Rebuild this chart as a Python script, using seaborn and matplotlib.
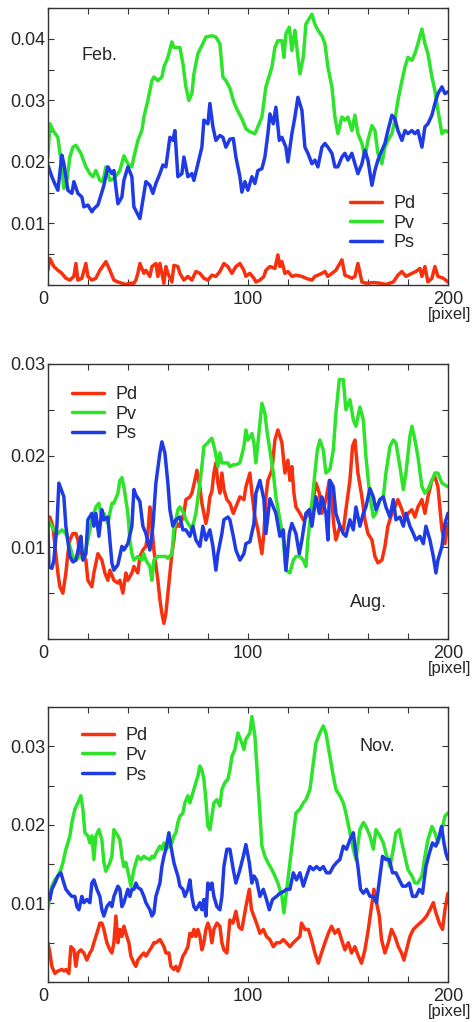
import pandas as pd
import matplotlib
matplotlib.use('Agg')
import matplotlib.pyplot as plt
import matplotlib.transforms as mtransforms
from matplotlib.ticker import MultipleLocator
from matplotlib.lines import Line2D
import seaborn as sns

# ---- February ----
feb_pd_x = [0, 1, 3, 5, 7, 9, 11, 13, 14, 15, 17, 19, 20, 22, 24, 26, 29, 31, 33, 35, 37, 39, 41, 43, 44, 45, 46, 48, 49, 51, 52, 54, 55, 56, 58, 59, 60, 62, 63, 65, 66, 68, 70, 72, 74, 76, 78, 80, 82, 84, 86, 88, 90, 92, 94, 96, 98, 99, 101, 103, 104, 106, 108, 109, 111, 113.5, 115, 116, 117, 118.5, 120, 122, 124, 127, 129, 132, 133.5, 135, 137, 138.5, 140, 142, 144, 147, 148.5, 150, 152, 153.5, 155, 157, 159, 163, 166, 169, 172.7, 175, 177, 179, 182, 184, 186, 187, 188.5, 190, 192, 193.5, 195, 197.7, 200]
feb_pd = [0.0024, 0.0043, 0.0030, 0.0024, 0.0019, 0.0011, 0.0008, 0.0014, 0.0035, 0.0008, 0.0011, 0.0035, 0.0014, 0.0008, 0.0011, 0.0024, 0.0038, 0.0024, 0.0008, 0.0005, 0.0003, 0.0001, 0.0003, 0.0003, 0.0008, 0.0019, 0.0035, 0.0019, 0.0024, 0.0014, 0.0030, 0.0035, 0.0014, 0.0035, 0.0003, 0.0030, 0.0019, 0.0005, 0.0032, 0.0030, 0.0019, 0.0008, 0.0014, 0.0008, 0.0022, 0.0019, 0.0011, 0.0008, 0.0016, 0.0014, 0.0022, 0.0035, 0.0030, 0.0019, 0.0030, 0.0035, 0.0024, 0.0014, 0.0019, 0.0011, 0.0005, 0.0008, 0.0014, 0.0024, 0.0030, 0.0027, 0.0049, 0.0030, 0.0038, 0.0019, 0.0022, 0.0014, 0.0016, 0.0014, 0.0011, 0.0008, 0.0014, 0.0016, 0.0019, 0.0022, 0.0014, 0.0019, 0.0024, 0.0041, 0.0016, 0.0014, 0.0011, 0.0014, 0.0035, 0.0005, 0.0003, 0.0004, 0.0003, 0.0001, 0.0005, 0.0016, 0.0022, 0.0014, 0.0019, 0.0022, 0.0027, 0.0014, 0.0030, 0.0005, 0.0011, 0.0030, 0.0014, 0.0011, 0.0005]

feb_pv_x = [0, 1, 3, 5, 6.5, 8, 9.5, 11, 12.5, 14, 16.5, 19, 21, 22.5, 24, 26, 27.5, 29, 31, 33, 36, 38, 40, 42, 43, 45, 47, 48, 50, 52, 53, 55, 57, 58, 60, 62, 63, 66, 67.5, 69, 70.5, 72, 73, 75, 77, 79, 82, 84, 86, 87.5, 89, 91, 92.7, 94, 97, 99, 101, 103.5, 105, 107, 109, 112, 113.5, 115, 117, 118, 119, 120.7, 122, 123.5, 125, 126, 127.7, 129, 132, 133.5, 135, 137, 138.5, 140, 142, 143.5, 145, 147, 148.5, 150, 152, 153.5, 155, 157, 158.5, 160, 162, 163.5, 165, 167, 168.5, 170, 172, 173.5, 175, 177, 178.5, 180, 182, 183.5, 185, 187, 188.5, 190, 192, 193.5, 195, 197, 198.5, 200]
feb_pv = [0.0208, 0.0262, 0.0249, 0.0240, 0.0203, 0.0157, 0.0170, 0.0208, 0.0224, 0.0227, 0.0214, 0.0192, 0.0181, 0.0176, 0.0186, 0.0170, 0.0168, 0.0192, 0.0170, 0.0173, 0.0186, 0.0210, 0.0197, 0.0192, 0.0208, 0.0235, 0.0251, 0.0273, 0.0300, 0.0332, 0.0338, 0.0332, 0.0338, 0.0354, 0.0370, 0.0395, 0.0386, 0.0386, 0.0360, 0.0322, 0.0300, 0.0311, 0.0343, 0.0376, 0.0389, 0.0403, 0.0405, 0.0403, 0.0392, 0.0338, 0.0332, 0.0320, 0.0300, 0.0289, 0.0270, 0.0254, 0.0249, 0.0246, 0.0257, 0.0273, 0.0322, 0.0354, 0.0386, 0.0397, 0.0397, 0.0370, 0.0408, 0.0419, 0.0381, 0.0414, 0.0370, 0.0343, 0.0370, 0.0424, 0.0440, 0.0424, 0.0414, 0.0405, 0.0392, 0.0354, 0.0322, 0.0273, 0.0246, 0.0273, 0.0268, 0.0273, 0.0251, 0.0276, 0.0246, 0.0230, 0.0208, 0.0235, 0.0259, 0.0251, 0.0214, 0.0197, 0.0224, 0.0235, 0.0246, 0.0268, 0.0300, 0.0332, 0.0354, 0.0370, 0.0365, 0.0376, 0.0392, 0.0416, 0.0392, 0.0376, 0.0338, 0.0316, 0.0284, 0.0246, 0.0251, 0.0249]

feb_ps_x = [0, 2, 3, 5, 7, 8, 10, 12, 13, 15, 17, 18, 20, 22, 23, 25, 27, 28, 30, 32, 33, 35, 37, 38, 40, 42, 43, 46, 47.5, 49, 51, 52.5, 54, 56, 57.5, 59, 61, 62.5, 63.5, 65, 67, 68, 70, 72, 73, 75, 77, 78, 80, 81, 82.5, 84, 86, 87.5, 89, 91, 92.7, 94, 96, 97, 98.5, 100, 102, 103.5, 105, 107, 108.5, 110, 111, 112.7, 114, 115.7, 117, 119, 120, 122, 123.5, 125, 127, 128.5, 130, 132, 133.5, 135, 137, 138.5, 140, 142, 143.5, 145, 147, 148.5, 150, 152, 153.5, 155, 157, 158.5, 160, 162, 163.5, 165, 167, 168.5, 170, 172, 173.5, 175, 177, 178.5, 180, 182, 183.5, 185, 187, 188.5, 190, 192, 193.5, 195, 197, 198.5, 200]
feb_ps = [0.0195, 0.0176, 0.0168, 0.0154, 0.0211, 0.0197, 0.0154, 0.0149, 0.0168, 0.0149, 0.0143, 0.0127, 0.0130, 0.0119, 0.0124, 0.0130, 0.0151, 0.0162, 0.0192, 0.0181, 0.0186, 0.0132, 0.0143, 0.0170, 0.0192, 0.0176, 0.0127, 0.0108, 0.0138, 0.0168, 0.0162, 0.0149, 0.0165, 0.0181, 0.0195, 0.0192, 0.0240, 0.0235, 0.0251, 0.0176, 0.0181, 0.0208, 0.0176, 0.0181, 0.0170, 0.0197, 0.0224, 0.0268, 0.0262, 0.0295, 0.0257, 0.0235, 0.0243, 0.0240, 0.0224, 0.0237, 0.0238, 0.0208, 0.0176, 0.0151, 0.0168, 0.0154, 0.0176, 0.0165, 0.0186, 0.0189, 0.0208, 0.0246, 0.0278, 0.0262, 0.0289, 0.0235, 0.0240, 0.0224, 0.0200, 0.0246, 0.0273, 0.0305, 0.0284, 0.0224, 0.0214, 0.0197, 0.0203, 0.0192, 0.0224, 0.0230, 0.0224, 0.0214, 0.0192, 0.0192, 0.0208, 0.0214, 0.0203, 0.0214, 0.0197, 0.0181, 0.0197, 0.0219, 0.0203, 0.0162, 0.0186, 0.0203, 0.0219, 0.0230, 0.0251, 0.0276, 0.0270, 0.0251, 0.0235, 0.0251, 0.0246, 0.0251, 0.0246, 0.0251, 0.0224, 0.0257, 0.0262, 0.0276, 0.0295, 0.0311, 0.0322, 0.0311, 0.0314]

# ---- August ----
aug_pd_x = [0, 1, 2.5, 4, 5, 6, 7.5, 9, 10, 11, 12.5, 14, 15, 16, 17.5, 19, 20, 22, 23, 25, 27, 28.5, 30, 31, 33, 35, 36, 37.5, 39, 40, 42, 43, 45, 46, 47.5, 49, 50, 51, 52, 53, 55, 56, 57, 58, 59, 60, 61, 62, 63, 64, 65, 66, 68, 69, 71, 72, 73.5, 74.5, 76, 77, 79, 80, 81, 82, 83, 84, 85, 86, 87, 88, 89.5, 91, 92.7, 94, 96, 98, 99, 101, 102, 103.5, 105, 107, 108, 109, 110, 112, 113.5, 115, 117, 118.5, 120, 121, 122, 123, 124, 126, 127.7, 129, 131, 132.7, 134, 135.7, 137, 139, 140.7, 141.8, 143, 144, 146, 147.7, 149, 151, 152.3, 153.5, 155, 157, 158.5, 160, 162, 163.5, 165, 167, 168.5, 170, 172, 173.5, 175, 177, 178.5, 180, 182, 183.5, 185, 187, 188.5, 190, 192, 193.5, 195, 197, 198.5, 200]
aug_pd = [0.0123, 0.0133, 0.0123, 0.0093, 0.0072, 0.0057, 0.0050, 0.0072, 0.0093, 0.0108, 0.0115, 0.0115, 0.0108, 0.0090, 0.0093, 0.0086, 0.0064, 0.0057, 0.0072, 0.0093, 0.0086, 0.0072, 0.0064, 0.0075, 0.0064, 0.0061, 0.0064, 0.0050, 0.0072, 0.0064, 0.0072, 0.0079, 0.0072, 0.0090, 0.0097, 0.0101, 0.0115, 0.0144, 0.0123, 0.0097, 0.0064, 0.0043, 0.0028, 0.0017, 0.0028, 0.0050, 0.0072, 0.0093, 0.0108, 0.0130, 0.0123, 0.0123, 0.0137, 0.0152, 0.0155, 0.0159, 0.0173, 0.0184, 0.0166, 0.0148, 0.0126, 0.0137, 0.0155, 0.0161, 0.0181, 0.0192, 0.0170, 0.0159, 0.0181, 0.0163, 0.0152, 0.0148, 0.0137, 0.0144, 0.0155, 0.0152, 0.0166, 0.0181, 0.0159, 0.0133, 0.0119, 0.0093, 0.0115, 0.0155, 0.0173, 0.0184, 0.0217, 0.0228, 0.0214, 0.0181, 0.0195, 0.0173, 0.0188, 0.0159, 0.0144, 0.0137, 0.0130, 0.0133, 0.0137, 0.0152, 0.0170, 0.0159, 0.0137, 0.0152, 0.0173, 0.0155, 0.0123, 0.0108, 0.0123, 0.0119, 0.0141, 0.0173, 0.0210, 0.0217, 0.0181, 0.0155, 0.0130, 0.0115, 0.0108, 0.0090, 0.0083, 0.0086, 0.0101, 0.0123, 0.0137, 0.0144, 0.0152, 0.0141, 0.0130, 0.0137, 0.0141, 0.0133, 0.0144, 0.0152, 0.0137, 0.0155, 0.0173, 0.0177, 0.0166, 0.0119, 0.0104, 0.0126]

aug_pv_x = [0, 2, 3, 5, 7, 9, 11, 12.5, 14, 16, 18, 20, 22, 24, 25.5, 27, 28, 30, 32, 33, 35, 36, 37, 38, 40, 41, 42, 43, 45, 47, 48, 49, 51, 52, 53, 55, 57, 59, 60, 62, 63, 65, 66, 68, 69, 71, 72, 74, 76, 77, 78, 80, 81, 82, 83.5, 85, 86, 87, 88.5, 90, 91, 92.7, 94, 96, 98, 99, 100, 102, 103, 104, 106, 107, 108.5, 109.7, 111, 112.7, 114, 116, 117.7, 119, 121, 122.7, 124, 126, 127.7, 129, 130, 132, 133.5, 134.7, 136, 137.7, 139, 141, 142.7, 144, 145.7, 147.7, 149, 151, 152.7, 154, 156, 157.7, 159, 161, 162.7, 164, 166, 167.7, 169, 171, 172.7, 174, 176, 177.7, 179, 181, 182, 183.5, 185, 187, 188.5, 190, 192, 193.5, 195, 197, 198.5, 200]
aug_pv = [0.0130, 0.0123, 0.0119, 0.0115, 0.0119, 0.0115, 0.0101, 0.0090, 0.0086, 0.0090, 0.0088, 0.0108, 0.0130, 0.0144, 0.0148, 0.0130, 0.0137, 0.0126, 0.0148, 0.0148, 0.0159, 0.0173, 0.0176, 0.0166, 0.0137, 0.0108, 0.0093, 0.0086, 0.0090, 0.0086, 0.0093, 0.0086, 0.0079, 0.0064, 0.0086, 0.0090, 0.0090, 0.0090, 0.0088, 0.0093, 0.0119, 0.0141, 0.0144, 0.0137, 0.0130, 0.0123, 0.0119, 0.0137, 0.0170, 0.0188, 0.0210, 0.0214, 0.0217, 0.0219, 0.0206, 0.0188, 0.0203, 0.0192, 0.0192, 0.0192, 0.0188, 0.0190, 0.0190, 0.0192, 0.0210, 0.0228, 0.0217, 0.0224, 0.0214, 0.0192, 0.0235, 0.0257, 0.0246, 0.0224, 0.0206, 0.0181, 0.0155, 0.0130, 0.0108, 0.0075, 0.0072, 0.0086, 0.0090, 0.0090, 0.0086, 0.0079, 0.0108, 0.0148, 0.0181, 0.0206, 0.0217, 0.0206, 0.0181, 0.0185, 0.0206, 0.0246, 0.0283, 0.0283, 0.0250, 0.0261, 0.0239, 0.0232, 0.0253, 0.0239, 0.0199, 0.0155, 0.0133, 0.0137, 0.0152, 0.0155, 0.0181, 0.0210, 0.0217, 0.0214, 0.0188, 0.0163, 0.0181, 0.0221, 0.0232, 0.0217, 0.0199, 0.0166, 0.0159, 0.0163, 0.0173, 0.0181, 0.0181, 0.0170, 0.0168, 0.0166]

aug_ps_x = [0, 0.5, 2, 3, 4.5, 5.5, 7, 8, 9, 11, 12.5, 14, 15.5, 16.5, 17.5, 19, 20, 22, 23, 24, 25.5, 27, 28, 30, 32, 33, 35, 37, 38, 40, 42, 43, 44, 46, 47.5, 49, 51, 52.5, 54, 56, 57, 58.5, 60, 61, 62.5, 64, 66, 67.5, 69, 71, 72.5, 74, 76, 77.5, 79, 81, 82.5, 84, 85, 87, 88, 90, 91, 92.7, 94, 96, 98, 99, 101, 103, 104, 106, 108, 109, 111, 112.7, 114, 116, 117.7, 119, 120.7, 122, 124, 125.7, 127, 129, 130.7, 132, 134, 135.7, 137, 139, 140, 141, 142.7, 144, 146, 147.7, 149, 151, 152.7, 154, 156, 157.7, 159, 161, 162.7, 164, 166, 167.7, 169, 171, 172.7, 174, 176, 177.7, 179, 181, 182.7, 184, 186, 187.7, 189, 191, 192.7, 194, 195, 197, 198.5, 200]
aug_ps = [0.0128, 0.0079, 0.0077, 0.0086, 0.0123, 0.0170, 0.0161, 0.0155, 0.0123, 0.0090, 0.0084, 0.0086, 0.0101, 0.0112, 0.0086, 0.0093, 0.0130, 0.0137, 0.0123, 0.0137, 0.0112, 0.0141, 0.0130, 0.0133, 0.0083, 0.0075, 0.0081, 0.0101, 0.0097, 0.0104, 0.0123, 0.0163, 0.0157, 0.0150, 0.0123, 0.0115, 0.0097, 0.0123, 0.0170, 0.0203, 0.0215, 0.0203, 0.0170, 0.0141, 0.0123, 0.0130, 0.0133, 0.0119, 0.0119, 0.0112, 0.0123, 0.0108, 0.0101, 0.0123, 0.0108, 0.0119, 0.0101, 0.0075, 0.0093, 0.0115, 0.0130, 0.0133, 0.0130, 0.0112, 0.0097, 0.0086, 0.0093, 0.0104, 0.0106, 0.0126, 0.0159, 0.0173, 0.0152, 0.0115, 0.0153, 0.0144, 0.0137, 0.0112, 0.0119, 0.0075, 0.0115, 0.0126, 0.0115, 0.0093, 0.0108, 0.0137, 0.0141, 0.0123, 0.0155, 0.0137, 0.0155, 0.0137, 0.0108, 0.0173, 0.0166, 0.0137, 0.0123, 0.0115, 0.0112, 0.0130, 0.0119, 0.0144, 0.0123, 0.0137, 0.0144, 0.0164, 0.0155, 0.0141, 0.0152, 0.0155, 0.0144, 0.0133, 0.0152, 0.0130, 0.0133, 0.0123, 0.0137, 0.0123, 0.0115, 0.0108, 0.0112, 0.0104, 0.0123, 0.0108, 0.0090, 0.0072, 0.0086, 0.0101, 0.0126, 0.0137]

# ---- November ----
nov_pd_x = [0, 1, 2, 3.5, 5, 7, 8, 9, 10.5, 11.5, 13, 14, 15, 16.5, 18, 19.5, 21, 22, 23, 24.5, 26, 27, 28, 29.5, 31, 32, 33, 34, 35, 36, 37, 38, 39, 40.5, 41.5, 43, 44, 45, 46.5, 48, 49, 51, 52, 53, 54, 56, 57, 58, 59, 60.5, 61.5, 63, 64, 65, 66, 67.5, 68.5, 70, 71, 72, 73, 74, 75, 76, 77, 78, 79, 80, 81, 82, 83, 84.5, 86, 87, 88, 89.5, 91, 92.5, 94, 95.5, 97, 99, 100.7, 101.8, 103, 104.3, 106, 107.7, 109.3, 111, 112.7, 114.3, 116, 117.7, 119.3, 121, 122.7, 124.3, 126, 126.8, 128.5, 130.2, 131.8, 133.5, 135.2, 136.8, 138.5, 140.2, 141.8, 143.5, 145.2, 146.8, 148.5, 150.2, 151.8, 153.5, 155.2, 156.8, 158.5, 160.2, 161.8, 163, 164.3, 165.7, 166.8, 168.5, 170.2, 171.8, 173.5, 175.2, 176.8, 178, 179.3, 181, 182.7, 184.3, 186, 187.7, 189.3, 191, 192.7, 194, 195.7, 197.3, 198.5, 200]
nov_pd = [0.0050, 0.0037, 0.0020, 0.0011, 0.0014, 0.0016, 0.0014, 0.0016, 0.0011, 0.0045, 0.0041, 0.0020, 0.0037, 0.0041, 0.0037, 0.0028, 0.0037, 0.0041, 0.0050, 0.0062, 0.0075, 0.0075, 0.0067, 0.0050, 0.0041, 0.0037, 0.0050, 0.0084, 0.0050, 0.0067, 0.0058, 0.0071, 0.0062, 0.0050, 0.0033, 0.0024, 0.0020, 0.0028, 0.0033, 0.0037, 0.0033, 0.0041, 0.0045, 0.0050, 0.0050, 0.0054, 0.0050, 0.0045, 0.0037, 0.0037, 0.0020, 0.0016, 0.0020, 0.0014, 0.0020, 0.0033, 0.0037, 0.0045, 0.0062, 0.0058, 0.0067, 0.0058, 0.0067, 0.0058, 0.0041, 0.0050, 0.0067, 0.0075, 0.0067, 0.0050, 0.0067, 0.0075, 0.0071, 0.0050, 0.0041, 0.0037, 0.0079, 0.0075, 0.0090, 0.0070, 0.0067, 0.0096, 0.0118, 0.0092, 0.0084, 0.0075, 0.0062, 0.0067, 0.0058, 0.0054, 0.0045, 0.0050, 0.0050, 0.0054, 0.0050, 0.0045, 0.0050, 0.0054, 0.0058, 0.0075, 0.0067, 0.0067, 0.0054, 0.0037, 0.0024, 0.0037, 0.0050, 0.0062, 0.0071, 0.0062, 0.0067, 0.0054, 0.0041, 0.0050, 0.0037, 0.0045, 0.0033, 0.0024, 0.0041, 0.0067, 0.0096, 0.0118, 0.0101, 0.0084, 0.0054, 0.0037, 0.0050, 0.0067, 0.0058, 0.0045, 0.0037, 0.0028, 0.0041, 0.0058, 0.0067, 0.0071, 0.0075, 0.0079, 0.0084, 0.0092, 0.0101, 0.0088, 0.0075, 0.0067, 0.0092, 0.0113]

nov_pv_x = [0, 1, 2, 3.5, 5, 6.5, 7.5, 9, 10, 11, 12, 13.5, 15, 16.5, 17.5, 18.5, 20, 21, 22, 23, 24, 25.5, 27, 28, 29, 31, 32, 33, 35, 36, 37, 38, 39, 40.5, 41.5, 43, 44, 45, 46.5, 48, 49, 51, 52, 53, 54, 56, 57, 58, 59, 60.5, 62, 63, 64, 65, 66, 67.5, 68.5, 70, 71, 72, 73, 74, 75, 76, 77, 78, 79, 80, 81, 82, 83, 84.5, 86, 87, 88.5, 90, 91, 92, 93.5, 95, 97, 98, 99, 101, 102, 103.5, 104.7, 106, 107, 108.5, 110, 112, 113.5, 115, 117, 118, 119, 121, 122.7, 124, 126, 127.7, 129, 131, 132.7, 134, 136, 137.7, 139, 141, 142.7, 144, 146, 147.7, 149, 151, 152.7, 154, 156, 157.7, 159, 161, 162.7, 164, 166, 167.7, 169, 171, 172.7, 174, 175.7, 177, 178.5, 180, 182, 183.5, 185, 187, 188.5, 190, 192, 193.5, 195, 197, 198.5, 200]
nov_pv = [0.0092, 0.0109, 0.0122, 0.0130, 0.0135, 0.0143, 0.0152, 0.0169, 0.0177, 0.0186, 0.0203, 0.0220, 0.0228, 0.0237, 0.0220, 0.0190, 0.0186, 0.0177, 0.0186, 0.0156, 0.0186, 0.0194, 0.0181, 0.0152, 0.0141, 0.0152, 0.0160, 0.0194, 0.0186, 0.0181, 0.0160, 0.0147, 0.0152, 0.0135, 0.0122, 0.0143, 0.0152, 0.0160, 0.0156, 0.0160, 0.0158, 0.0156, 0.0160, 0.0158, 0.0164, 0.0173, 0.0169, 0.0177, 0.0169, 0.0173, 0.0177, 0.0186, 0.0190, 0.0203, 0.0211, 0.0215, 0.0228, 0.0237, 0.0228, 0.0237, 0.0245, 0.0254, 0.0262, 0.0275, 0.0270, 0.0258, 0.0232, 0.0198, 0.0194, 0.0211, 0.0228, 0.0232, 0.0224, 0.0245, 0.0254, 0.0258, 0.0270, 0.0287, 0.0296, 0.0317, 0.0304, 0.0296, 0.0309, 0.0317, 0.0338, 0.0313, 0.0266, 0.0215, 0.0173, 0.0160, 0.0152, 0.0143, 0.0135, 0.0126, 0.0109, 0.0088, 0.0109, 0.0152, 0.0186, 0.0215, 0.0220, 0.0228, 0.0232, 0.0245, 0.0279, 0.0304, 0.0317, 0.0326, 0.0317, 0.0287, 0.0262, 0.0245, 0.0237, 0.0228, 0.0215, 0.0190, 0.0169, 0.0156, 0.0194, 0.0203, 0.0198, 0.0186, 0.0169, 0.0194, 0.0186, 0.0177, 0.0164, 0.0147, 0.0169, 0.0190, 0.0194, 0.0177, 0.0160, 0.0143, 0.0135, 0.0126, 0.0126, 0.0135, 0.0160, 0.0181, 0.0198, 0.0190, 0.0177, 0.0194, 0.0211, 0.0215]

nov_ps_x = [0, 1, 2, 3.5, 5, 6.5, 8, 9, 10.5, 12, 13.5, 14.5, 15.5, 17, 18, 19.5, 21, 22, 23, 24.5, 26, 27, 28, 29.5, 31, 32, 33, 35, 36, 37, 38, 40, 41, 42, 43, 44, 45, 46.5, 48, 49, 51, 52, 53, 54, 56, 57, 58, 59, 60.5, 61.5, 63, 64, 65, 66, 67.5, 68.5, 70, 71, 72, 73, 74, 75, 76, 77, 78, 79, 80, 81, 82, 83, 84.5, 86, 87, 88, 89.5, 91, 92.7, 94, 96, 97.7, 99, 100.7, 102, 103, 104.3, 106, 107.7, 109.3, 110.7, 112.3, 114.3, 116, 117.7, 119.3, 121, 122.7, 124.3, 126, 127.7, 129.3, 131, 132.7, 134.3, 136, 137.7, 139.3, 141, 142.7, 144.3, 146, 147.7, 149.3, 151, 152.7, 154, 155, 156.3, 157.7, 159.3, 161, 162.7, 164.3, 166, 167.3, 169, 170.7, 172.3, 174, 175.7, 177.3, 179, 180.7, 182.3, 184, 185.7, 187.3, 189, 190.7, 192.3, 194, 195.7, 196.8, 198, 199, 200]
nov_ps = [0.0113, 0.0105, 0.0118, 0.0126, 0.0135, 0.0139, 0.0126, 0.0118, 0.0113, 0.0109, 0.0109, 0.0096, 0.0092, 0.0109, 0.0101, 0.0105, 0.0101, 0.0126, 0.0130, 0.0118, 0.0109, 0.0092, 0.0084, 0.0096, 0.0101, 0.0096, 0.0109, 0.0122, 0.0118, 0.0096, 0.0101, 0.0118, 0.0109, 0.0118, 0.0118, 0.0126, 0.0120, 0.0118, 0.0109, 0.0101, 0.0092, 0.0084, 0.0088, 0.0109, 0.0126, 0.0147, 0.0160, 0.0169, 0.0190, 0.0173, 0.0152, 0.0143, 0.0135, 0.0122, 0.0118, 0.0109, 0.0118, 0.0130, 0.0109, 0.0096, 0.0092, 0.0096, 0.0101, 0.0092, 0.0105, 0.0084, 0.0126, 0.0118, 0.0126, 0.0109, 0.0096, 0.0092, 0.0109, 0.0147, 0.0169, 0.0169, 0.0143, 0.0126, 0.0143, 0.0160, 0.0175, 0.0152, 0.0126, 0.0135, 0.0130, 0.0109, 0.0118, 0.0105, 0.0092, 0.0105, 0.0109, 0.0113, 0.0115, 0.0118, 0.0118, 0.0139, 0.0130, 0.0139, 0.0122, 0.0135, 0.0147, 0.0143, 0.0147, 0.0143, 0.0147, 0.0139, 0.0139, 0.0147, 0.0152, 0.0156, 0.0173, 0.0169, 0.0181, 0.0190, 0.0164, 0.0147, 0.0118, 0.0113, 0.0118, 0.0109, 0.0109, 0.0101, 0.0135, 0.0160, 0.0156, 0.0156, 0.0139, 0.0139, 0.0130, 0.0122, 0.0122, 0.0126, 0.0109, 0.0109, 0.0118, 0.0113, 0.0147, 0.0164, 0.0177, 0.0173, 0.0186, 0.0198, 0.0177, 0.0164, 0.0156]

series_names = ['Pd', 'Pv', 'Ps']
colors = {'Pd': '#f7300e', 'Pv': '#2de42a', 'Ps': '#1f3be4'}

panels = [
    dict(month='Feb.', ymax=0.045, yticks=[0.01, 0.02, 0.03, 0.04],
         data=[(feb_pd_x, feb_pd), (feb_pv_x, feb_pv), (feb_ps_x, feb_ps)],
         pos=[0.101, 0.7211, 0.844, 0.2710], month_xy=(0.085, 0.83), leg_xy=(0.755, 0.325)),
    dict(month='Aug.', ymax=0.03, yticks=[0.01, 0.02, 0.03],
         data=[(aug_pd_x, aug_pd), (aug_pv_x, aug_pv), (aug_ps_x, aug_ps)],
         pos=[0.101, 0.3748, 0.844, 0.2691], month_xy=(0.755, 0.131), leg_xy=(0.06, 0.92)),
    dict(month='Nov.', ymax=0.035, yticks=[0.01, 0.02, 0.03],
         data=[(nov_pd_x, nov_pd), (nov_pv_x, nov_pv), (nov_ps_x, nov_ps)],
         pos=[0.101, 0.0391, 0.844, 0.2691], month_xy=(0.78, 0.855), leg_xy=(0.085, 0.927)),
]

sns.set_style('ticks')
plt.rcParams['font.family'] = ['Liberation Sans', 'DejaVu Sans']

fig = plt.figure(figsize=(4.74, 10.22), dpi=100)
shift_left = mtransforms.ScaledTranslation(-5 / 100, 0, fig.dpi_scale_trans)

for p in panels:
    ax = fig.add_axes(p['pos'])
    frames = []
    for name, (xs, ys) in zip(series_names, p['data']):
        frames.append(pd.DataFrame({'pixel': xs, 'value': ys, 'series': name}))
    df = pd.concat(frames, ignore_index=True)
    sns.lineplot(data=df, x='pixel', y='value', hue='series', hue_order=series_names,
                 palette=colors, estimator=None, linewidth=2.5, legend=False, ax=ax)

    ax.set_xlim(0, 200)
    ax.set_ylim(0, p['ymax'])
    ax.set_xticks([0, 100, 200])
    ax.set_xticklabels(['0', '100', '200'])
    ax.xaxis.set_minor_locator(MultipleLocator(20))
    ax.set_yticks(p['yticks'])
    ax.set_yticklabels([f'{v:.2f}' for v in p['yticks']])
    ax.yaxis.set_minor_locator(MultipleLocator(0.005))
    ax.tick_params(which='both', direction='in', top=True, right=True,
                   length=4, width=0.8, labelsize=13, color='#333333')
    ax.tick_params(axis='y', pad=2)
    ax.tick_params(axis='x', pad=4)
    ax.set_xlabel('')
    ax.set_ylabel('')
    for s in ax.spines.values():
        s.set_color('#333333')
        s.set_linewidth(1.0)

    # the origin label sits a little left of the axis corner
    zero_lbl = ax.get_xticklabels()[0]
    zero_lbl.set_transform(zero_lbl.get_transform() + shift_left)

    ax.text(p['month_xy'][0], p['month_xy'][1], p['month'], transform=ax.transAxes,
            va='center', ha='left', fontsize=13)
    ax.annotate('[pixel]', xy=(1.005, 0), xycoords='axes fraction',
                xytext=(0, -21), textcoords='offset points',
                ha='center', va='center', fontsize=12)

    handles = [Line2D([], [], color=colors[n], lw=2.5) for n in series_names]
    ax.legend(handles, series_names, loc='upper left', bbox_to_anchor=p['leg_xy'],
              frameon=False, borderpad=0, borderaxespad=0, handlelength=1.8,
              handletextpad=0.6, labelspacing=0.15, fontsize=13)

fig.savefig('out.png', dpi=100)
